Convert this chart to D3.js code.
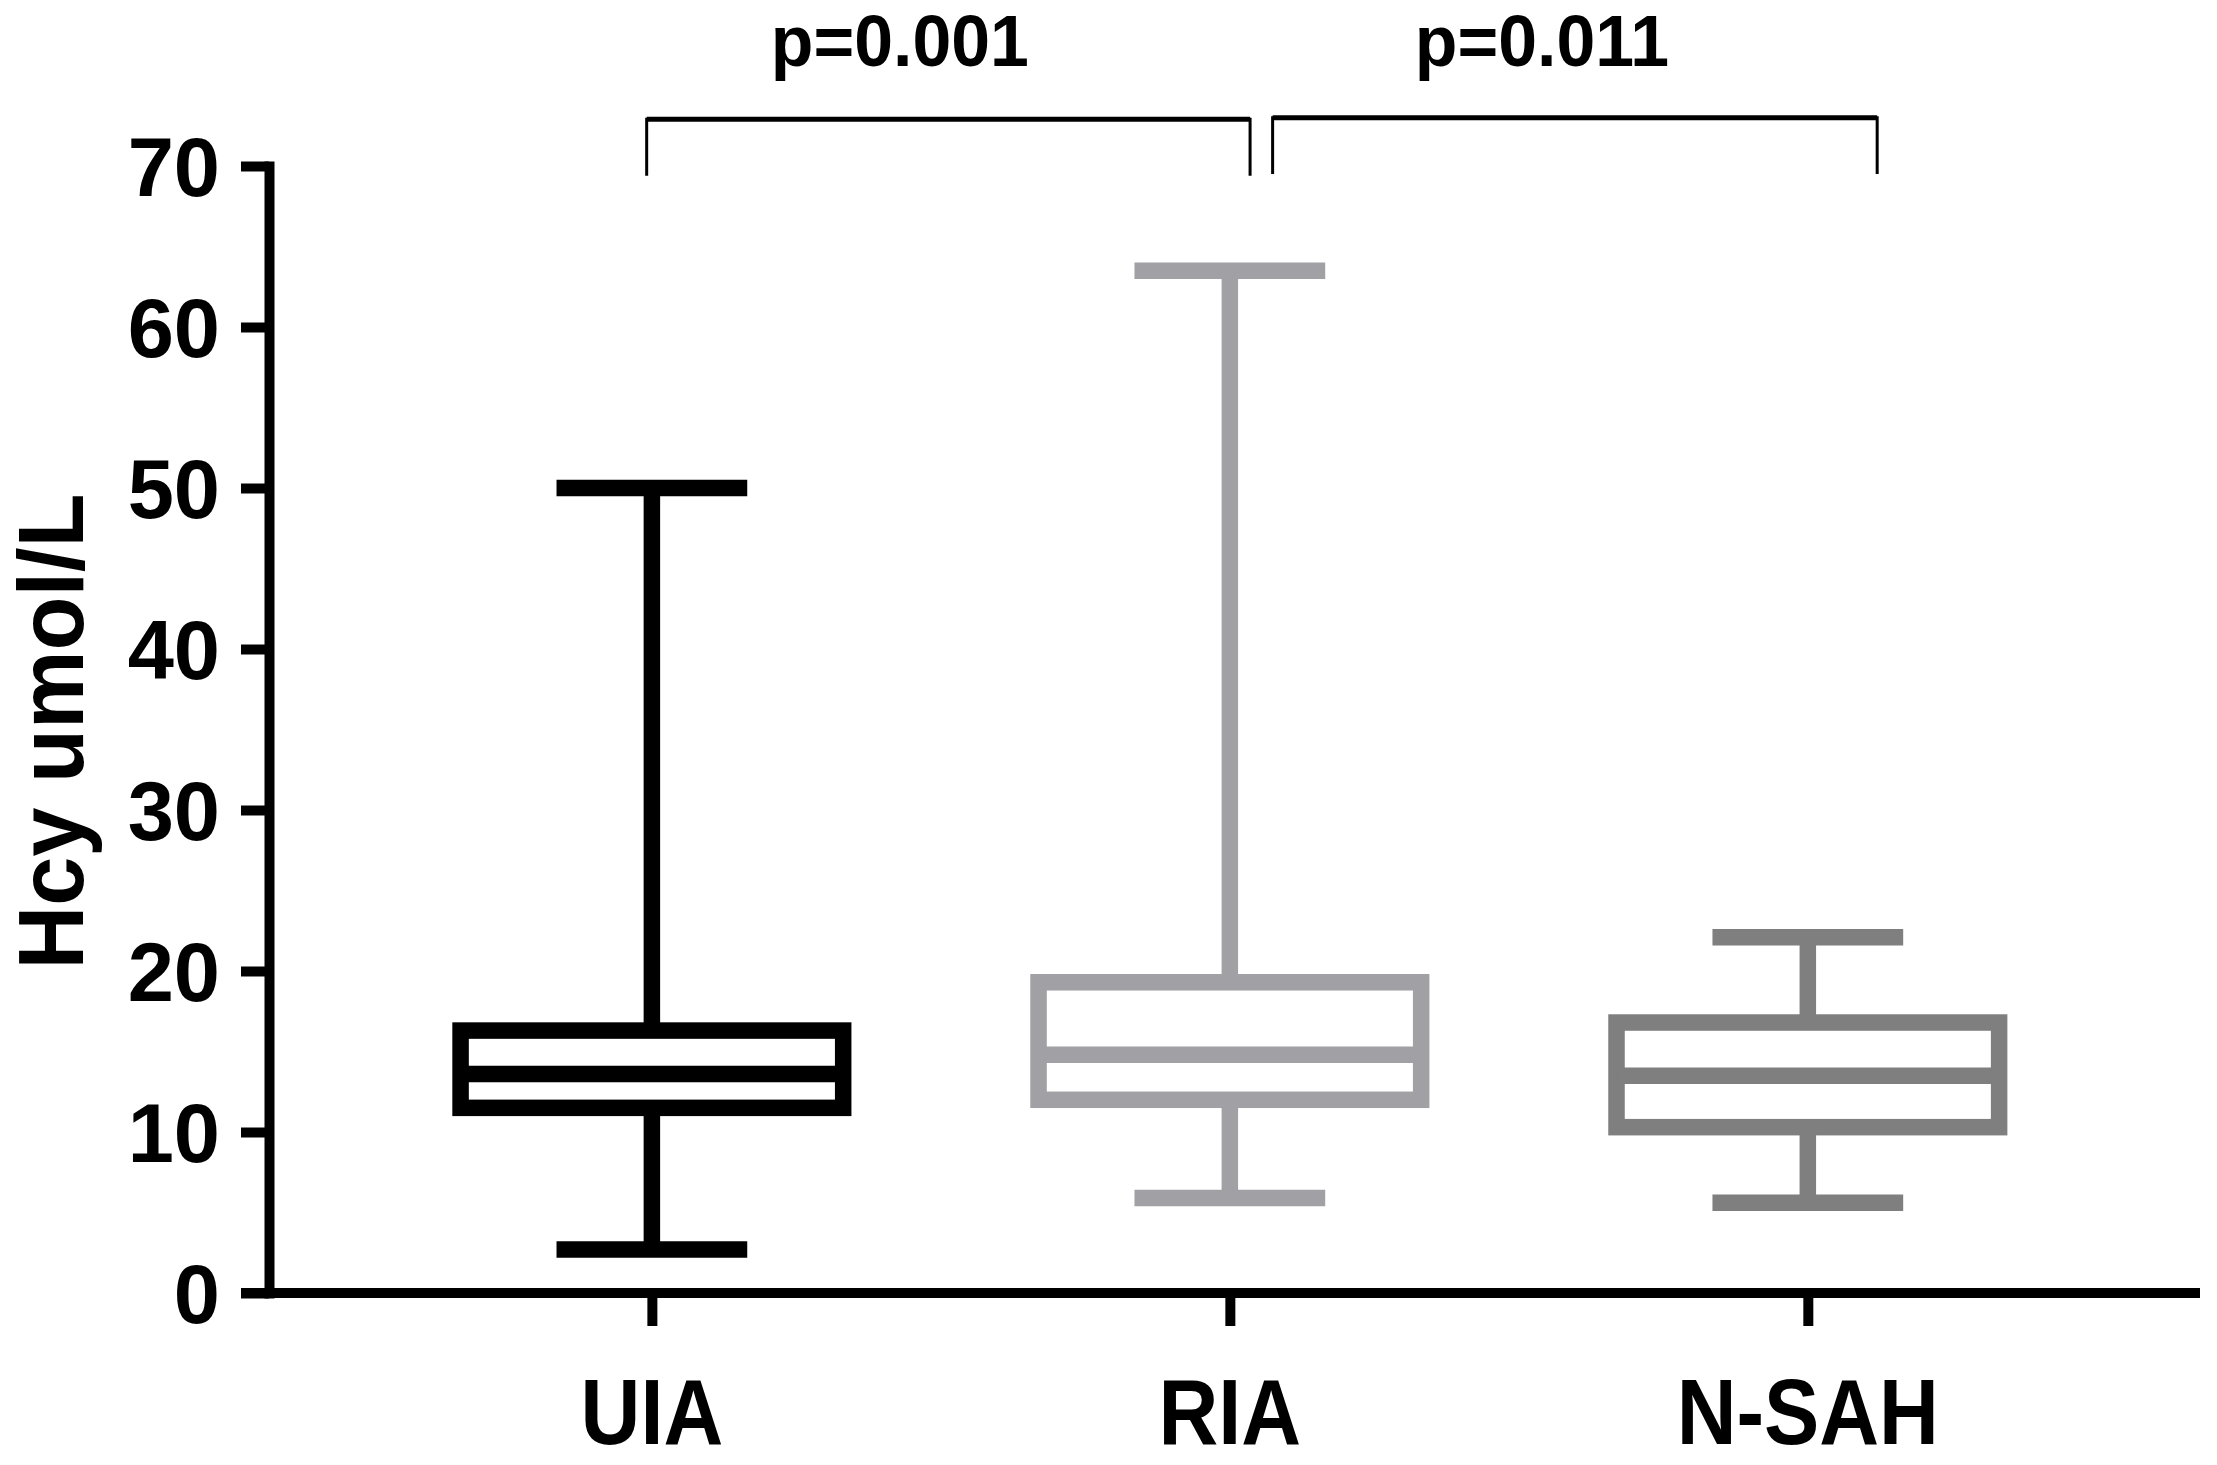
<!DOCTYPE html>
<html>
<head>
<meta charset="utf-8">
<script src="https://cdn.jsdelivr.net/npm/d3@7/dist/d3.min.js"></script>
<style>
  html, body { margin: 0; padding: 0; background: #fff; }
  svg { display: block; }
  text { font-family: "Liberation Sans", Arial, Helvetica, sans-serif; font-weight: bold; fill: #000; }
</style>
</head>
<body>
<div id="chart"></div>
<script>
// box plot values (Hcy, umol/L)
var categories  = ["UIA", "RIA", "N-SAH"];
var whiskerMin  = [2.7, 5.9, 5.6];
var q1Vals      = [11.5, 12.0, 10.3];
var medianVals  = [13.6, 14.8, 13.5];
var q3Vals      = [16.3, 19.3, 16.8];
var whiskerMax  = [50.0, 63.5, 22.1];
var boxColors   = ["#000000", "#a0a0a5", "#7f7f7f"];
var yTicks      = [0, 10, 20, 30, 40, 50, 60, 70];

// significance brackets (ends in category-index units, heights in data units)
var cmpLabels   = ["p=0.001", "p=0.011"];
var cmpFrom     = [-0.009, 1.074];
var cmpTo       = [1.035, 2.12];
var cmpLabelPos = [0.429, 1.54];
var cmpTop      = [72.9, 73.0];
var cmpFoot     = [69.4, 69.5];

var W = 2217, H = 1465;
var margin = {top: 166, right: 17, bottom: 172, left: 269};
var tickLen = 28;

var svg = d3.select("#chart").append("svg")
    .attr("width", W)
    .attr("height", H);

svg.append("rect").attr("width", W).attr("height", H).attr("fill", "#fff");

var x = d3.scalePoint()
    .domain(categories)
    .range([margin.left, W - margin.right])
    .padding(0.6705)
    .align(0.494);

var y = d3.scaleLinear()
    .domain([0, 70])
    .range([H - margin.bottom, margin.top]);

// category index -> pixel, for the brackets
var xi = d3.scaleLinear()
    .domain([0, categories.length - 1])
    .range([x(categories[0]), x(categories[categories.length - 1])]);

var boxW = x.step() * 0.662;
var capW = x.step() * 0.33;
var boxStroke = 16.5;

var boxes = categories.map(function(c, i){
    return {cat: c, min: whiskerMin[i], q1: q1Vals[i], med: medianVals[i],
            q3: q3Vals[i], max: whiskerMax[i], color: boxColors[i]};
});

function drawText(g, px, py, txt, opt){
    opt = opt || {};
    return g.append("text")
        .attr("transform", "translate(" + px + "," + py + ") rotate(" + (opt.rotate || 0) + ") scale(" + (opt.sx || 1) + ",1)")
        .attr("text-anchor", opt.anchor || "middle")
        .attr("dy", opt.dy || 0)
        .style("font-size", opt.size + "px")
        .text(txt);
}

// ---- axes
var yAxis = svg.append("g")
    .attr("class", "yAxis")
    .attr("transform", "translate(" + margin.left + ",0)")
    .call(d3.axisLeft(y).tickValues(yTicks).tickSize(tickLen).tickSizeOuter(0).tickPadding(20));

yAxis.select(".domain").attr("stroke", "#000").attr("stroke-width", 10).attr("stroke-linecap", "square");
yAxis.selectAll(".tick line").attr("stroke", "#000").attr("stroke-width", 10);
yAxis.selectAll(".tick text")
    .style("font-size", "83px")
    .attr("x", -49)
    .attr("dy", "0.36em")
    .attr("fill", "#000");

var xAxis = svg.append("g")
    .attr("class", "xAxis")
    .attr("transform", "translate(0," + y(0) + ")")
    .call(d3.axisBottom(x).tickSize(tickLen + 5).tickSizeOuter(0));
xAxis.select(".domain").remove();
xAxis.selectAll(".tick line").attr("stroke", "#000").attr("stroke-width", 10);
xAxis.selectAll(".tick text").remove();

xAxis.append("line")
    .attr("x1", margin.left - tickLen)
    .attr("x2", W - margin.right)
    .attr("y1", 0).attr("y2", 0)
    .attr("stroke", "#000")
    .attr("stroke-width", 10);

categories.forEach(function(c){
    drawText(svg, x(c), y(0) + 151, c, {size: 92, sx: 0.9});
});

drawText(svg, 83, (y(0) + y(70)) / 2 + 2, "Hcy umol/L", {size: 93, sx: 0.95, rotate: -90});

// ---- boxes
var boxG = svg.selectAll(".box")
    .data(boxes)
    .enter().append("g")
    .attr("class", "box");

boxG.append("line")
    .attr("x1", function(d){ return x(d.cat); })
    .attr("x2", function(d){ return x(d.cat); })
    .attr("y1", function(d){ return y(d.max); })
    .attr("y2", function(d){ return y(d.q3); })
    .attr("stroke", function(d){ return d.color; })
    .attr("stroke-width", boxStroke);

boxG.append("line")
    .attr("x1", function(d){ return x(d.cat); })
    .attr("x2", function(d){ return x(d.cat); })
    .attr("y1", function(d){ return y(d.q1); })
    .attr("y2", function(d){ return y(d.min); })
    .attr("stroke", function(d){ return d.color; })
    .attr("stroke-width", boxStroke);

boxG.selectAll(".cap")
    .data(function(d){ return [{cat: d.cat, v: d.max, color: d.color}, {cat: d.cat, v: d.min, color: d.color}]; })
    .enter().append("line")
    .attr("class", "cap")
    .attr("x1", function(d){ return x(d.cat) - capW / 2; })
    .attr("x2", function(d){ return x(d.cat) + capW / 2; })
    .attr("y1", function(d){ return y(d.v); })
    .attr("y2", function(d){ return y(d.v); })
    .attr("stroke", function(d){ return d.color; })
    .attr("stroke-width", boxStroke);

boxG.append("rect")
    .attr("x", function(d){ return x(d.cat) - boxW / 2; })
    .attr("y", function(d){ return y(d.q3); })
    .attr("width", boxW)
    .attr("height", function(d){ return y(d.q1) - y(d.q3); })
    .attr("fill", "#fff")
    .attr("stroke", function(d){ return d.color; })
    .attr("stroke-width", boxStroke);

boxG.append("line")
    .attr("x1", function(d){ return x(d.cat) - boxW / 2; })
    .attr("x2", function(d){ return x(d.cat) + boxW / 2; })
    .attr("y1", function(d){ return y(d.med); })
    .attr("y2", function(d){ return y(d.med); })
    .attr("stroke", function(d){ return d.color; })
    .attr("stroke-width", boxStroke);

// ---- significance brackets
var cmp = cmpLabels.map(function(l, i){
    return {label: l, from: cmpFrom[i], to: cmpTo[i], pos: cmpLabelPos[i], top: cmpTop[i], foot: cmpFoot[i]};
});

var brG = svg.selectAll(".bracket")
    .data(cmp)
    .enter().append("g")
    .attr("class", "bracket");

brG.append("path")
    .attr("fill", "none")
    .attr("stroke", "#000")
    .attr("stroke-width", 3)
    .attr("d", function(d){
        return d3.line()([[xi(d.from), y(d.foot)], [xi(d.from), y(d.top)], [xi(d.to), y(d.top)], [xi(d.to), y(d.foot)]]);
    });

brG.append("line")
    .attr("x1", function(d){ return xi(d.from); })
    .attr("x2", function(d){ return xi(d.to); })
    .attr("y1", function(d){ return y(d.top); })
    .attr("y2", function(d){ return y(d.top); })
    .attr("stroke", "#000")
    .attr("stroke-width", 5);

cmp.forEach(function(d){
    drawText(svg, xi(d.pos), 66, d.label, {size: 72, sx: 0.97});
});
</script>
</body>
</html>
